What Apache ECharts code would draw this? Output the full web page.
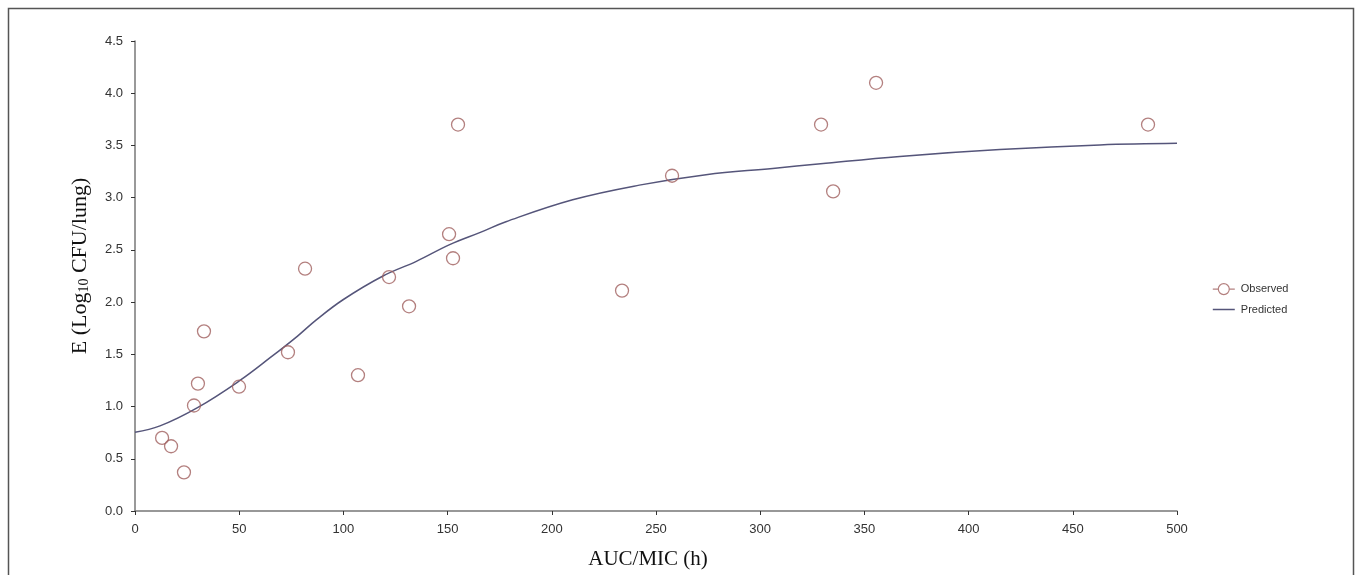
<!DOCTYPE html>
<html><head><meta charset="utf-8">
<script src="https://cdn.jsdelivr.net/npm/echarts@6/dist/echarts.min.js"></script>
<style>html,body{margin:0;padding:0;background:#fff;}#c{width:1357px;height:575px;}</style>
</head><body><div id="c"></div>
<script>
// Observed data (AUC/MIC, E)
const obsX = [13.0, 17.3, 23.5, 28.3, 30.2, 33.1, 49.9, 73.4, 81.6, 107.0, 121.9, 131.5, 150.7, 152.6, 155.0, 233.7, 257.7, 329.2, 335.0, 355.6, 486.1];
const obsY = [0.70, 0.62, 0.37, 1.01, 1.22, 1.72, 1.19, 1.52, 2.32, 1.30, 2.24, 1.96, 2.65, 2.42, 3.70, 2.11, 3.21, 3.70, 3.06, 4.10, 3.70];
// Predicted curve
const predX = [0, 12, 30, 50, 65, 78, 87, 100, 119, 135, 151, 166, 178, 210, 242, 274, 306, 329, 367, 415, 463, 500];
const predY = [0.755, 0.815, 0.99, 1.245, 1.47, 1.675, 1.83, 2.025, 2.25, 2.39, 2.55, 2.67, 2.77, 2.98, 3.12, 3.22, 3.28, 3.325, 3.395, 3.46, 3.505, 3.52];
const xTicks = [0, 50, 100, 150, 200, 250, 300, 350, 400, 450, 500];
const yTicks = [0.0, 0.5, 1.0, 1.5, 2.0, 2.5, 3.0, 3.5, 4.0, 4.5];

const obsColor = '#a0605f';
const predColor = '#55557a';
const axisColor = '#777';

const chart = echarts.init(document.getElementById('c'), null, {renderer: 'canvas'});
chart.setOption({
  backgroundColor: '#fff',
  animation: false,
  graphic: [{
    type: 'rect', shape: {x: 8.5, y: 8.5, width: 1345, height: 620},
    style: {fill: 'none', stroke: '#555', lineWidth: 1.5}, silent: true
  }],
  grid: {left: 135, right: 180, top: 41, bottom: 62, containLabel: false},
  legend: {
    orient: 'vertical', left: 1207, top: 278, itemGap: 8,
    itemWidth: 24, itemHeight: 11,
    textStyle: {fontFamily: 'Liberation Sans, Arial', fontSize: 11, color: '#333'},
    data: [
      {name: 'Observed', icon: 'path://M0,10 L5,10 M15,10 A5,5 0 1,1 5,10 A5,5 0 1,1 15,10 M15,10 L20,10',
       itemStyle: {color: 'rgba(0,0,0,0)', borderColor: obsColor, borderWidth: 1.2}},
      {name: 'Predicted', icon: 'path://M0,5 L0,5.01 M0,10 L20,10 M20,15 L20,15.01',
       itemStyle: {color: 'rgba(0,0,0,0)', borderColor: predColor, borderWidth: 1.6}}
    ]
  },
  xAxis: {
    type: 'value', min: 0, max: 500, interval: 50,
    name: 'AUC/MIC (h)', nameLocation: 'middle', nameGap: 38,
    nameTextStyle: {fontFamily: 'Liberation Serif, Times New Roman', fontSize: 21, color: '#111', padding: [0, 16, 0, 0]},
    axisLine: {show: true, lineStyle: {color: axisColor, width: 1.5}},
    axisTick: {show: true, length: 4, lineStyle: {color: '#333'}},
    axisLabel: {fontFamily: 'Liberation Sans, Arial', fontSize: 13, color: '#333', margin: 12,
      formatter: v => xTicks.includes(v) ? String(v) : ''},
    splitLine: {show: false}
  },
  yAxis: {
    type: 'value', min: 0, max: 4.5, interval: 0.5,
    name: 'E (Log{sub|10} CFU/lung)', nameLocation: 'middle', nameGap: 44, nameRotate: 90,
    nameTextStyle: {fontFamily: 'Liberation Serif, Times New Roman', fontSize: 22, color: '#111', padding: [0, 0, 0, 20],
      rich: {sub: {fontFamily: 'Liberation Serif, Times New Roman', fontSize: 14, color: '#111', verticalAlign: 'bottom', padding: [7, 0, 0, 0]}}},
    axisLine: {show: true, lineStyle: {color: axisColor, width: 1.5}},
    axisTick: {show: true, length: 4, lineStyle: {color: '#333'}},
    axisLabel: {fontFamily: 'Liberation Sans, Arial', fontSize: 13, color: '#333', margin: 12,
      formatter: v => yTicks.includes(Math.round(v * 10) / 10) ? v.toFixed(1) : ''},
    splitLine: {show: false}
  },
  series: [
    {
      name: 'Predicted', type: 'line', smooth: 0.4, showSymbol: false, symbol: 'none',
      data: predX.map((x, i) => [x, predY[i]]),
      lineStyle: {color: predColor, width: 1.5}, itemStyle: {color: predColor}, z: 2
    },
    {
      name: 'Observed', type: 'scatter', symbol: 'circle', symbolSize: 13,
      data: obsX.map((x, i) => [x, obsY[i]]),
      itemStyle: {color: 'rgba(255,255,255,0)', borderColor: obsColor, borderWidth: 1.3}, z: 3
    }
  ]
});
</script></body></html>
